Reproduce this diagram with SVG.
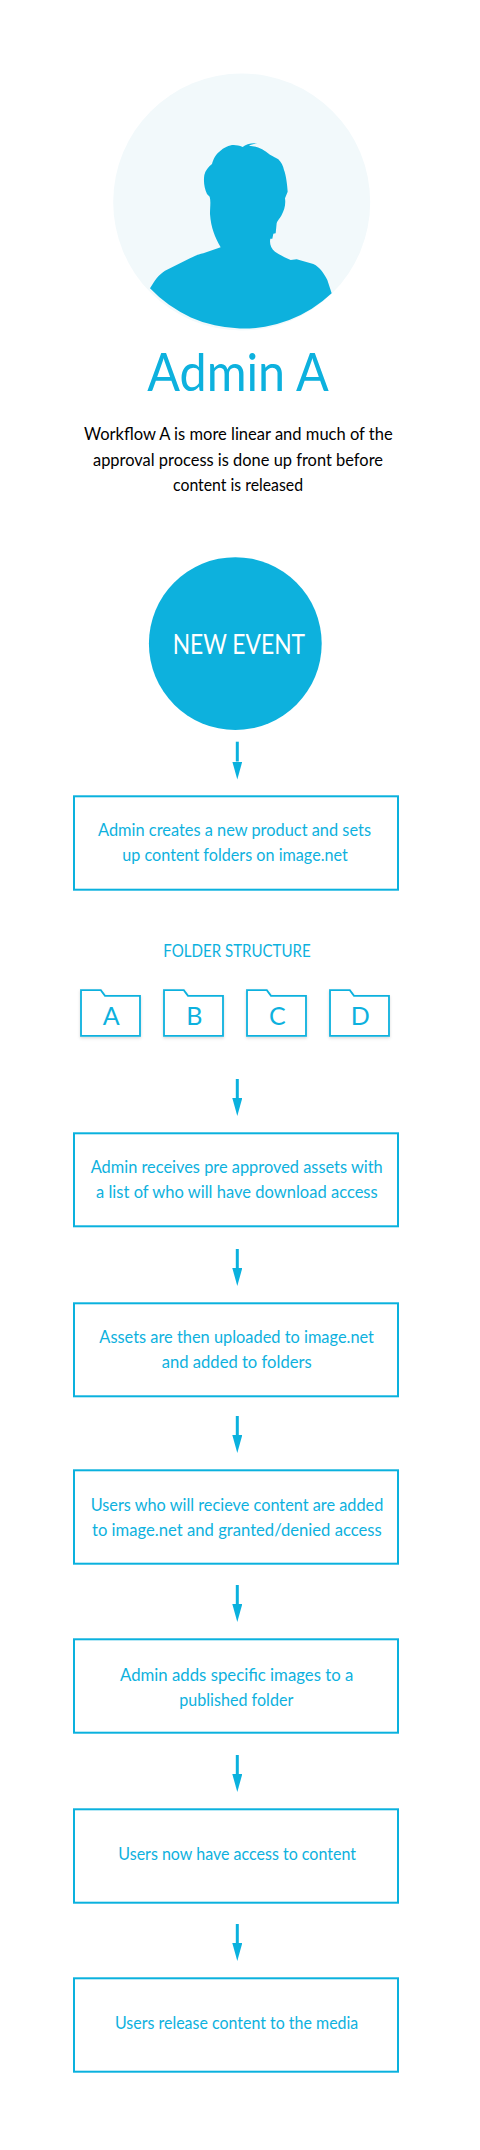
<svg xmlns="http://www.w3.org/2000/svg" width="480" height="2150" viewBox="0 0 480 2150">
<style>
text{font-family:"Lato","Noto Sans",sans-serif;fill:#0db1de}
.b{font-size:17.5px}
.box{fill:#fff;stroke:#0ab1de;stroke-width:2}
.fold{fill:#fff;stroke:#0ab1de;stroke-width:1.8;filter:url(#sh)}
.lt{font-size:25px}
.arrow{stroke:#0ab1de;stroke-width:3;fill:none;marker-end:url(#head)}
.body{font-size:17.5px}
</style>
<defs>
<marker id="head" markerUnits="userSpaceOnUse" viewBox="0 0 18 10" refX="0" refY="5" markerWidth="18" markerHeight="10" orient="auto"><path d="M0 0L18 5L0 10Z" fill="#0ab1de"/></marker>
<filter id="sh" x="-20%" y="-20%" width="140%" height="150%"><feDropShadow dx="0" dy="1.5" stdDeviation="1.5" flood-color="#000" flood-opacity=".15"/></filter>
</defs>
<rect width="480" height="2150" fill="#fff"/>
<g id="avatar">
<circle cx="241.7" cy="202" r="128.5" fill="#f2f9fb"/>
<path fill="#0db1dd" transform="translate(100 60) scale(.33333)" d="M150 685C165 660 175 645 195 632L270 595C285 587 295 583 310 580L362 562C345 530 333 505 330 462C330 440 333 425 329 410L321 402C313 385 310 365 313 345C316 332 325 320 336 312C340 298 345 285 358 275C365 268 372 263 380 260C395 253 410 254 428 261C437 252 455 248 472 250C462 251 452 254 447 257C470 258 490 268 510 284C520 290 528 293 535 298C543 306 550 318 552 330C558 345 562 375 563 395L555 415C558 435 552 452 545 465C538 478 532 482 530 490L527 520L520 521L517 536L511 536C508 550 512 565 525 575C540 585 555 593 572 600L590 598L640 612C660 622 672 640 682 660L695 700A385 385 0 0 1 150 685Z"/>
</g>
<g id="title">
<text x="147.3" y="390.7" style="font-size:52px" textLength="181.4" lengthAdjust="spacingAndGlyphs">Admin A</text>
</g>
<g id="intro">
<text class="body" style="fill:#000" x="84" y="440" textLength="308.7" lengthAdjust="spacingAndGlyphs">Workflow A is more linear and much of the</text>
<text class="body" style="fill:#000" x="93" y="465.7" textLength="290" lengthAdjust="spacingAndGlyphs">approval process is done up front before</text>
<text class="body" style="fill:#000" x="173" y="490.7" textLength="130" lengthAdjust="spacingAndGlyphs">content is released</text>
</g>
<g id="connectors">
<path class="arrow" d="M237.3 741.7V761.5"/>
<path class="arrow" d="M237.3 1079V1098"/>
<path class="arrow" d="M237.3 1249V1268"/>
<path class="arrow" d="M237.3 1416V1435"/>
<path class="arrow" d="M237.3 1585V1604"/>
<path class="arrow" d="M237.3 1755V1774"/>
<path class="arrow" d="M237.3 1924V1943"/>
</g>
<g id="new-event">
<circle cx="235.3" cy="643.6" r="86.4" fill="#0db1dd"/>
<text x="172.7" y="654" style="font-size:26px;fill:#fff" textLength="132.3" lengthAdjust="spacingAndGlyphs">NEW EVENT</text>
</g>
<g id="step-1">
<rect class="box" x="74" y="796.3" width="324" height="93.4"/>
<text class="b" x="98" y="836" textLength="273" lengthAdjust="spacingAndGlyphs">Admin creates a new product and sets</text>
<text class="b" x="122.3" y="861" textLength="225.5" lengthAdjust="spacingAndGlyphs">up content folders on image.net</text>
</g>
<g id="folder-structure">
<text x="163.3" y="956.7" style="font-size:18px" textLength="147.4" lengthAdjust="spacingAndGlyphs">FOLDER STRUCTURE</text>
</g>
<g id="folder-a">
<path class="fold" d="M81 1035.8V990.2H100.8L105 995.8H140V1035.8Z"/>
<text class="lt" x="111.3" y="1025" text-anchor="middle">A</text>
</g>
<g id="folder-b">
<path class="fold" d="M164 1035.8V990.2H183.8L188 995.8H223V1035.8Z"/>
<text class="lt" x="194.3" y="1025" text-anchor="middle">B</text>
</g>
<g id="folder-c">
<path class="fold" d="M247 1035.8V990.2H266.8L271 995.8H306V1035.8Z"/>
<text class="lt" x="277.3" y="1025" text-anchor="middle">C</text>
</g>
<g id="folder-d">
<path class="fold" d="M330 1035.8V990.2H349.8L354 995.8H389V1035.8Z"/>
<text class="lt" x="360.3" y="1025" text-anchor="middle">D</text>
</g>
<g id="step-2">
<rect class="box" x="74" y="1133.3" width="324" height="93"/>
<text class="b" x="90.7" y="1173.3" textLength="292" lengthAdjust="spacingAndGlyphs">Admin receives pre approved assets with</text>
<text class="b" x="96" y="1198.3" textLength="281.7" lengthAdjust="spacingAndGlyphs">a list of who will have download access</text>
</g>
<g id="step-3">
<rect class="box" x="74" y="1303.3" width="324" height="93"/>
<text class="b" x="99.3" y="1343.3" textLength="274.7" lengthAdjust="spacingAndGlyphs">Assets are then uploaded to image.net</text>
<text class="b" x="161.7" y="1368.3" textLength="150" lengthAdjust="spacingAndGlyphs">and added to folders</text>
</g>
<g id="step-4">
<rect class="box" x="74" y="1470.3" width="324" height="93.4"/>
<text class="b" x="90.7" y="1511" textLength="292.6" lengthAdjust="spacingAndGlyphs">Users who will recieve content are added</text>
<text class="b" x="92" y="1536" textLength="289.7" lengthAdjust="spacingAndGlyphs">to image.net and granted/denied access</text>
</g>
<g id="step-5">
<rect class="box" x="74" y="1639.3" width="324" height="93.4"/>
<text class="b" x="120" y="1681" textLength="233.3" lengthAdjust="spacingAndGlyphs">Admin adds specific images to a</text>
<text class="b" x="179.3" y="1706" textLength="114" lengthAdjust="spacingAndGlyphs">published folder</text>
</g>
<g id="step-6">
<rect class="box" x="74" y="1809.3" width="324" height="93.4"/>
<text class="b" x="118.3" y="1860" textLength="237.7" lengthAdjust="spacingAndGlyphs">Users now have access to content</text>
</g>
<g id="step-7">
<rect class="box" x="74" y="1978.3" width="324" height="93.4"/>
<text class="b" x="115" y="2029.3" textLength="243.3" lengthAdjust="spacingAndGlyphs">Users release content to the media</text>
</g>
</svg>
